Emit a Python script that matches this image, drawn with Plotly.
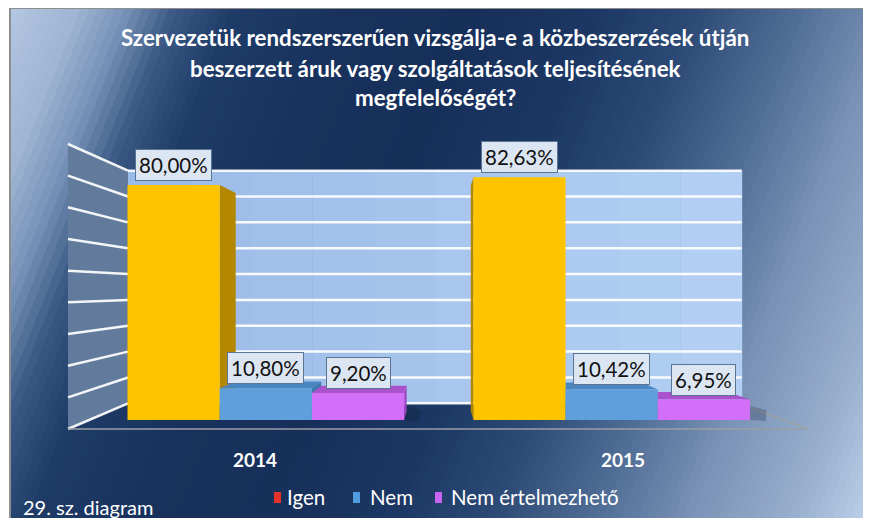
import plotly.graph_objects as go

# ---------------- data ----------------
categories = ['2014', '2015']
series_names = ['Igen', 'Nem', 'Nem értelmezhető']
igen = [80.00, 82.63]
nem = [10.80, 10.42]
nem_ertelmezheto = [9.20, 6.95]
y_ticks = [0, 10, 20, 30, 40, 50, 60, 70, 80, 90]

title_lines = ['Szervezetük rendszerszerűen vizsgálja-e a közbeszerzések útján',
               'beszerzett áruk vagy szolgáltatások teljesítésének',
               'megfelelőségét?']
footer = '29. sz. diagram'

# ---------------- styles ----------------
FONT = 'Lato'
front_colors = ['#ffc400', '#5e9fdc', '#d26ef8']
side_colors = ['#b38700', '#3f78b0', '#9a45c0']
top_colors = ['#d9a300', '#4a86c0', '#aa52cc']
legend_colors = ['#e3342c', '#4f9be0', '#c864f0']

OFF = 8                                   # page body margin
SW, SH = 871, 518                         # screen size
W, H = SW - OFF, SH - OFF                 # figure size
PL, PR, PT, PB = 60, 830, 130, 440        # plot area in screen pixels
BARGAP = 0.2
NS = len(series_names)
BW = (1 - BARGAP) / NS
X_RANGE = [(PL - 265.85) / 345.85, 1 + (PR - 611.7) / 345.85]
Y_RANGE = [-(PB - 420) / 2.9375, (420 - PT) / 2.9375]


def dx(px):
    return X_RANGE[0] + (px - PL) / (PR - PL) * (X_RANGE[1] - X_RANGE[0])


def dy(py):
    return Y_RANGE[0] + (PB - py) / (PB - PT) * (Y_RANGE[1] - Y_RANGE[0])


def ppx(px):
    return (px - PL) / (PR - PL)


def ppy(py):
    return (PB - py) / (PB - PT)


def path_of(pts):
    return 'M ' + ' L '.join(f'{x:.5f},{y:.5f}' for x, y in pts) + ' Z'


def hexrgb(h):
    h = h.lstrip('#')
    return tuple(int(h[i:i + 2], 16) for i in (0, 2, 4))


def mix(c1, c2, t):
    a, b = hexrgb(c1), hexrgb(c2)
    return 'rgb(%d,%d,%d)' % tuple(round(a[i] + (b[i] - a[i]) * t) for i in range(3))


shapes = []

# ---------------- background diagonal gradient ----------------
K = 0.4
stops = [(13, '#b4c7e2'), (80, '#9fb5d3'), (130, '#7893b8'), (180, '#3a5883'),
         (240, '#1f3b67'), (350, '#18325d'), (480, '#17305a'), (600, '#1c3763'),
         (700, '#2d4a76'), (800, '#4f6c95'), (900, '#7a93b6'), (1000, '#98afcd'),
         (1080, '#bdd1ea')]


def grad(u):
    for (u0, c0), (u1, c1) in zip(stops[:-1], stops[1:]):
        if u <= u1:
            return mix(c0, c1, max(0.0, (u - u0) / (u1 - u0)))
    return stops[-1][1]


def clip(poly, f):
    out = []
    n = len(poly)
    for i in range(n):
        p, q = poly[i], poly[(i + 1) % n]
        fp, fq = f(p), f(q)
        if fp >= 0:
            out.append(p)
        if (fp >= 0) != (fq >= 0):
            t = fp / (fp - fq)
            out.append((p[0] + (q[0] - p[0]) * t, p[1] + (q[1] - p[1]) * t))
    return out


FX0, FY0, FX1, FY1 = 10, 8, 868, 518
frame = [(FX0, FY0), (FX1, FY0), (FX1, FY1), (FX0, FY1)]
NB = 120
umin, umax = FX0 + K * FY0, FX1 + K * FY1
for i in range(NB):
    u0 = umin + (umax - umin) * i / NB
    u1 = umin + (umax - umin) * (i + 1) / NB + 1.0
    poly = clip(frame, lambda p, u0=u0: p[0] + K * p[1] - u0)
    poly = clip(poly, lambda p, u1=u1: u1 - (p[0] + K * p[1]))
    if len(poly) < 3:
        continue
    shapes.append(dict(type='path', xref='paper', yref='paper', layer='below',
                       path=path_of([(ppx(x), ppy(y)) for x, y in poly]),
                       fillcolor=grad((u0 + u1) / 2), line=dict(width=0)))
shapes.append(dict(type='rect', xref='paper', yref='paper', layer='below',
                   x0=ppx(FX0), x1=ppx(FX1), y0=ppy(FY0), y1=ppy(FY1 + 5),
                   line=dict(color='#8e8e8e', width=2), fillcolor='rgba(0,0,0,0)'))


def dpoly(pts, fill):
    shapes.append(dict(type='path', xref='x', yref='y', layer='below',
                       path=path_of([(dx(x), dy(y)) for x, y in pts]), fillcolor=fill,
                       line=dict(width=0)))


def dline(p, q, color, width):
    shapes.append(dict(type='line', xref='x', yref='y', layer='below',
                       x0=dx(p[0]), y0=dy(p[1]), x1=dx(q[0]), y1=dy(q[1]),
                       line=dict(color=color, width=width)))


# ---------------- 3D walls ----------------
BWX0, BWX1 = 128, 741.7          # back wall x extent (px)
BW_Y0, BW_SC = 403.3, 2.585      # back wall: y of 0 and px per unit
LW_X, LW_Y0, LW_SC = 68, 429, 3.1667  # left wall outer edge
NSTRIPE = 10
for i in range(NSTRIPE):
    xa = BWX0 + (BWX1 - BWX0) * i / NSTRIPE
    xb = BWX0 + (BWX1 - BWX0) * (i + 1) / NSTRIPE + 0.5
    dpoly([(xa, BW_Y0 - y_ticks[-1] * BW_SC), (xb, BW_Y0 - y_ticks[-1] * BW_SC),
           (xb, BW_Y0), (xa, BW_Y0)], mix('#9bbce8', '#b2cef2', i / (NSTRIPE - 1)))
dpoly([(LW_X, LW_Y0 - y_ticks[-1] * LW_SC), (BWX0, BW_Y0 - y_ticks[-1] * BW_SC),
       (BWX0, BW_Y0), (LW_X, LW_Y0)], '#627b9c')
for t in y_ticks:
    yb = BW_Y0 - t * BW_SC
    dline((BWX0, yb), (BWX1, yb), 'rgba(255,255,255,0.92)', 2.5)
    dline((LW_X, LW_Y0 - t * LW_SC), (BWX0, yb), 'rgba(255,255,255,0.92)', 2.5)
# floor edges
dline((LW_X, LW_Y0), (808, LW_Y0), '#9a9fa6', 1.5)
dline((BWX1, BW_Y0 + 1), (808, LW_Y0), '#9a9fa6', 1.5)

# ---------------- bars 3D faces ----------------
values = [igen, nem, nem_ertelmezheto]
VPX, VPY = dx(438), dy(294)
R = 0.927


def back(p):
    return (VPX + (p[0] - VPX) * R, VPY + (p[1] - VPY) * R)


def dpoly_data(pts, fill):
    shapes.append(dict(type='path', xref='x', yref='y', layer='below',
                       path=path_of(pts), fillcolor=fill, line=dict(width=0)))


bars = []
for s, vals in enumerate(values):
    for c, v in enumerate(vals):
        center = c + (s - (NS - 1) / 2) * BW
        bars.append((s, center - BW / 2, center + BW / 2, v))

# soft shadows to the right of each group
for c in range(len(categories)):
    xr = c + (NS / 2) * BW
    w16 = dx(16) - dx(0)
    shapes.append(dict(type='path', xref='x', yref='y', layer='below',
                       path=path_of([(xr, dy(420)), (xr, dy(406)),
                                     (xr + w16, dy(410)), (xr + w16, dy(421))]),
                       fillcolor='rgba(10,20,40,0.22)', line=dict(width=0)))

for s, xl, xr, v in bars:   # side faces
    if xr < VPX:
        dpoly_data([(xr, v), back((xr, v)), back((xr, 0)), (xr, 0)], side_colors[s])
    if xl > VPX:
        dpoly_data([(xl, v), back((xl, v)), back((xl, 0)), (xl, 0)], side_colors[s])
for s, xl, xr, v in bars:   # top faces
    if v < VPY:
        dpoly_data([(xl, v), (xr, v), back((xr, v)), back((xl, v))], top_colors[s])

# ---------------- traces ----------------
fig = go.Figure()
for s, name in enumerate(series_names):
    fig.add_trace(go.Bar(x=list(range(len(categories))), y=values[s], name=name,
                         marker=dict(color=front_colors[s], line=dict(width=0)),
                         showlegend=False, hoverinfo='skip'))

annotations = []
# data labels
for s, xl, xr, v in bars:
    annotations.append(dict(x=(xl + xr) / 2, y=v, xref='x', yref='y',
                            xanchor='center', yanchor='bottom',
                            yshift=4, showarrow=False,
                            text=f'{v:.2f}'.replace('.', ',') + '%',
                            font=dict(family=FONT, size=20.5, color='#111111'),
                            bgcolor='#dce6f2', bordercolor='#5b7595', borderwidth=1,
                            borderpad=3))
# category labels (shifted by perspective toward front edge)
for c, cat in enumerate(categories):
    annotations.append(dict(x=c, y=ppy(459), xref='x', yref='paper', showarrow=False,
                            xanchor='center', yanchor='middle',
                            xshift=(c - 0.5) * 345.85 * 0.064,
                            text=cat, font=dict(family=FONT, size=19, color='white',
                                                weight='bold')))
# title
for i, line in enumerate(title_lines):
    annotations.append(dict(x=ppx(435), y=ppy(38 + 30 * i), xref='paper', yref='paper',
                            xanchor='center', yanchor='middle',
                            showarrow=False, text=line,
                            font=dict(family=FONT, size=22.3, color='white', weight='bold')))
# legend (manual)
leg_sw = [274, 353, 435]
leg_tx = [285, 368, 449]
for s, name in enumerate(series_names):
    shapes.append(dict(type='rect', xref='paper', yref='paper', layer='above',
                       x0=ppx(leg_sw[s]), x1=ppx(leg_sw[s] + 7), y0=ppy(492), y1=ppy(503),
                       fillcolor=legend_colors[s], line=dict(width=0)))
    annotations.append(dict(x=ppx(leg_tx[s]), y=ppy(497), xref='paper', yref='paper',
                            xanchor='left', yanchor='middle', showarrow=False, text=name,
                            font=dict(family=FONT, size=20.5, color='white')))
annotations.append(dict(x=ppx(21), y=ppy(507), xref='paper', yref='paper', xanchor='left',
                        yanchor='middle', showarrow=False, text=footer,
                        font=dict(family=FONT, size=20, color='white')))

fig.update_layout(
    width=W, height=H,
    margin=dict(l=PL - OFF, r=SW - PR, t=PT - OFF, b=SH - PB, autoexpand=False),
    paper_bgcolor='white', plot_bgcolor='rgba(0,0,0,0)',
    barmode='group', bargap=BARGAP, bargroupgap=0,
    xaxis=dict(range=X_RANGE, visible=False, fixedrange=True),
    yaxis=dict(range=Y_RANGE, visible=False, fixedrange=True),
    shapes=shapes, annotations=annotations, showlegend=False,
)
fig.write_html('out.html')
